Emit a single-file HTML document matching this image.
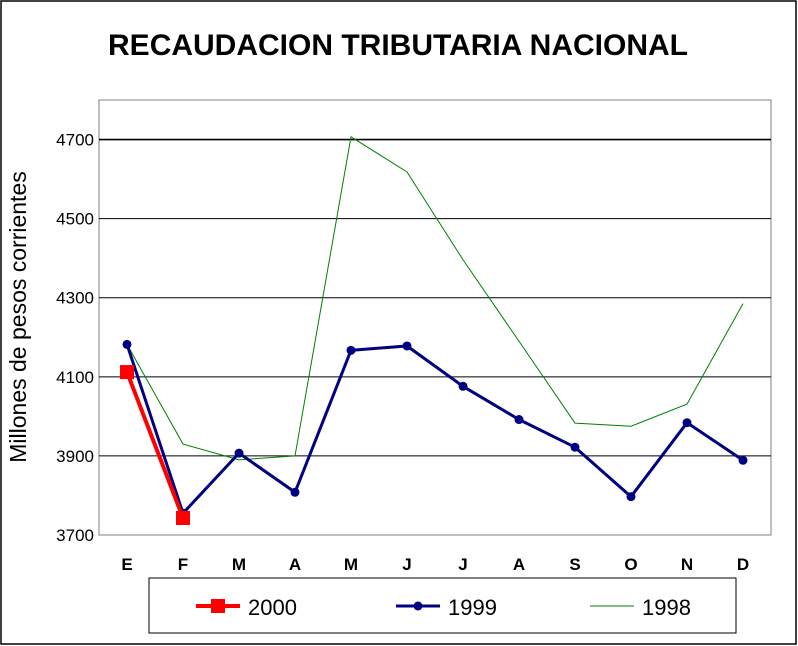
<!DOCTYPE html>
<html><head><meta charset="utf-8"><style>
body{margin:0;background:#fff;}
svg{display:block;font-family:"Liberation Sans",Arial,sans-serif;}
</style></head><body>
<svg id="chart" width="798" height="646" viewBox="0 0 798 646">
<rect x="1" y="1" width="795" height="643" fill="#fff" stroke="#000" stroke-width="1.5"/>
<text x="398" y="55" text-anchor="middle" font-size="30" font-weight="bold">RECAUDACION TRIBUTARIA NACIONAL</text>
<rect x="99" y="100" width="672" height="435" fill="#fff" stroke="#808080"/>
<g id="grid"></g><g id="yticks"></g><g id="xticks"></g><g id="series"></g>
<text transform="translate(26,317) rotate(-90)" text-anchor="middle" font-size="23">Millones de pesos corrientes</text>
<rect x="149" y="578" width="587" height="55" fill="#fff" stroke="#000"/>
<g>
<line x1="196" y1="606" x2="240" y2="606" stroke="#f00" stroke-width="4"/>
<rect x="211" y="599" width="14" height="14" fill="#f00"/>
<text x="248" y="615" font-size="22">2000</text></g>
<g>
<line x1="396" y1="606" x2="440" y2="606" stroke="#000080" stroke-width="3"/>
<circle cx="418" cy="606" r="4.5" fill="#000080"/>
<text x="448" y="615" font-size="22">1999</text></g>
<g>
<line x1="590" y1="606" x2="634" y2="606" stroke="#008000" stroke-width="1"/>
<text x="642" y="615" font-size="22">1998</text></g>
</svg>
<script>
const months=["E","F","M","A","M","J","J","A","S","O","N","D"];
const yTicks=[3700,3900,4100,4300,4500,4700];
const s2000=[4112,3743];
const s1999=[4182,3755,3907,3808,4167,4178,4076,3992,3922,3797,3984,3889];
const s1998=[4182,3930,3890,3900,4707,4618,4396,4190,3983,3975,4031,4285];
const NS="http://www.w3.org/2000/svg";
const x0=99,pw=672,yMin=3700,yMax=4800,yTop=100,yBot=535;
const xs=i=>x0+pw/months.length*(i+0.5);
const ys=v=>yBot-(v-yMin)/(yMax-yMin)*(yBot-yTop);
function mk(tag,attrs,parent){const e=document.createElementNS(NS,tag);for(const k in attrs)e.setAttribute(k,attrs[k]);document.getElementById(parent).appendChild(e);return e;}
yTicks.forEach(t=>{
 if(t>yMin){const l=mk('line',{x1:x0,x2:x0+pw,y1:ys(t),y2:ys(t),stroke:'#000','stroke-width':t===4700?1.6:1},'grid');
 
 }
 const tx=mk('text',{x:x0-5,y:ys(t)+6,'text-anchor':'end','font-size':17},'yticks');tx.textContent=t;
 
 
});
months.forEach((m,i)=>{
 const tx=mk('text',{x:xs(i),y:570,'text-anchor':'middle','font-size':17,'font-weight':'bold'},'xticks');tx.textContent=m;
 
 
});
const pts=a=>a.map((v,i)=>xs(i)+','+ys(v)).join(' ');
const l98=mk('polyline',{points:pts(s1998),fill:'none',stroke:'#008000','stroke-width':1},'series');


const l99=mk('polyline',{points:pts(s1999),fill:'none',stroke:'#000080','stroke-width':3},'series');


s1999.forEach((v,i)=>{const c=mk('circle',{cx:xs(i),cy:ys(v),r:4.5,fill:'#000080'},'series');
 
 });
const l00=mk('polyline',{points:pts(s2000),fill:'none',stroke:'#f00','stroke-width':4},'series');


s2000.forEach((v,i)=>{const r=mk('rect',{x:xs(i)-7,y:ys(v)-7,width:14,height:14,fill:'#f00'},'series');
 
 });
</script>
</body></html>
